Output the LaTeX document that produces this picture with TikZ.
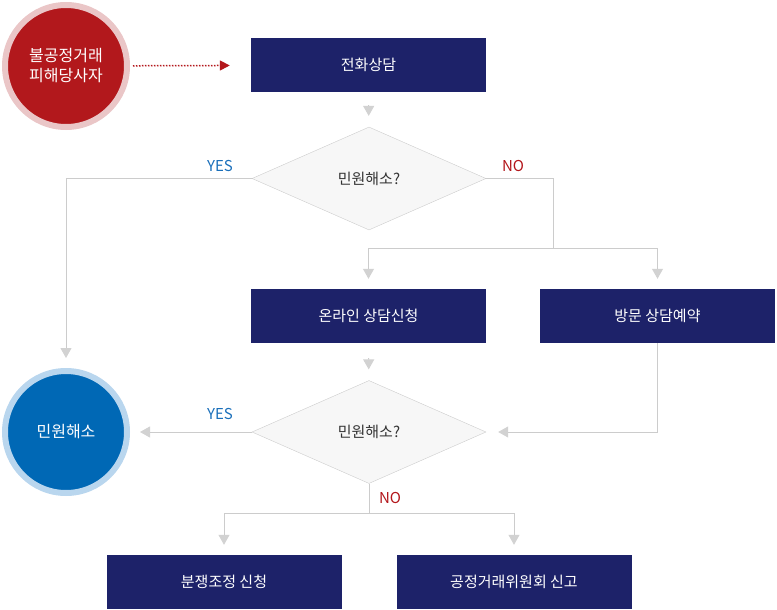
\documentclass[tikz,border=0pt]{standalone}
\usepackage{fontspec}
\setmainfont{Noto Sans CJK KR}
\usepackage{tikz}
\usetikzlibrary{shapes.geometric,arrows.meta}

\definecolor{navy}{HTML}{1D2269}
\definecolor{redfill}{HTML}{B2181C}
\definecolor{redring}{HTML}{EAC6C7}
\definecolor{bluefill}{HTML}{0068B5}
\definecolor{bluering}{HTML}{B9D6EE}
\definecolor{linegray}{HTML}{CCCCCC}
\definecolor{tipgray}{HTML}{D2D2D2}
\definecolor{checkfill}{HTML}{F7F7F7}
\definecolor{textgray}{HTML}{333333}
\definecolor{yesblue}{HTML}{1A6FBA}
\definecolor{nored}{HTML}{B3161B}

\begin{document}
\begin{tikzpicture}[x=1pt, y=-1pt, font=\fontsize{15}{20}\selectfont,
    box/.style={rectangle, fill=navy, text=white, minimum width=235pt, minimum height=54pt, inner sep=0pt},
    check/.style={diamond, draw=linegray, fill=checkfill, text=textgray, minimum width=234pt, minimum height=103pt, inner sep=0pt},
    party/.style={circle, line width=6pt, minimum size=122pt, inner sep=0pt, align=center, text=white,
        font=\fontsize{16}{20}\selectfont},
    flow/.style={draw=linegray, line width=1pt, -{Triangle[width=11pt,length=10pt,color=tipgray]}},
    wire/.style={draw=linegray, line width=1pt}]
    \useasboundingbox (0,0) rectangle (777,610);

    % Start
    \node[party, fill=redfill, draw=redring] (victim) at (66,66) {불공정거래\\피해당사자};
    \node[box] (call) at (368.5,65) {전화상담};
    \draw[draw=nored, line width=1.5pt, dash pattern=on 1.5pt off 1.5pt, shorten <=3pt, shorten >=21pt,
        -{Triangle[width=10pt,length=10pt,color=nored,sep=0pt]}] (victim) -- (call);

    % First check
    \node[check] (check1) at (369,178.5) {민원해소?};
    \draw[flow, shorten <=13pt, shorten >=11pt] (call) -- (check1);
    \node[text=yesblue] (yes1) at (220,166) {YES};
    \node[text=nored] (no1) at (513,166) {NO};
    \coordinate (split1) at (553,248);
    \draw[wire] (check1.east) -| (split1);

    % Consultation
    \node[box] (online) at (368.5,316) {온라인 상담신청};
    \node[box] (visit) at (657.5,316) {방문 상담예약};
    \draw[flow, shorten >=10pt] (split1) -| (online);
    \draw[flow, shorten >=10pt] (split1) -| (visit);

    % Second check
    \node[check] (check2) at (369,432) {민원해소?};
    \draw[flow, shorten <=15pt, shorten >=11pt] (online) -- (check2);
    \draw[flow, shorten >=12pt] (visit) |- (check2.east);
    \node[text=yesblue] (yes2) at (220,414) {YES};
    \node[text=nored] (no2) at (390,498) {NO};

    % Solved
    \node[party, fill=bluefill, draw=bluering] (solved) at (66,432) {민원해소};
    \draw[flow, shorten >=10pt] (check1.west) -| (solved);
    \draw[flow, shorten >=10pt] (check2.west) -- (solved);

    % Further steps
    \node[box] (mediate) at (224,582) {분쟁조정 신청};
    \node[box] (report) at (514,582) {공정거래위원회 신고};
    \coordinate (split2) at (369,513);
    \draw[wire] (check2.south) -- (split2);
    \draw[flow, shorten >=10pt] (split2) -| (mediate);
    \draw[flow, shorten >=10pt] (split2) -| (report);
\end{tikzpicture}
\end{document}
